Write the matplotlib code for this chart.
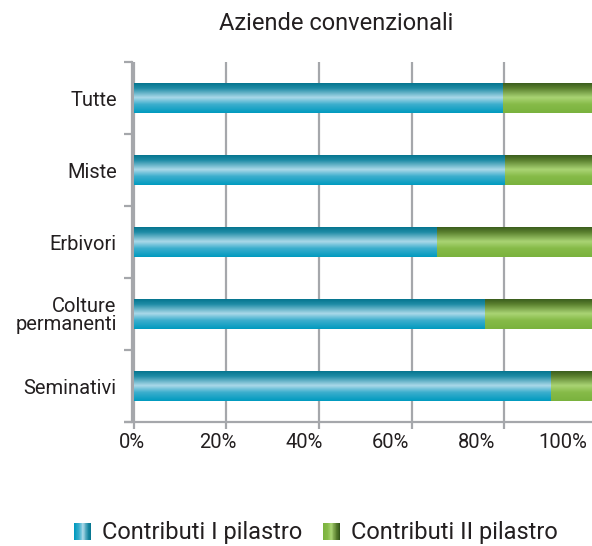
import numpy as np
import matplotlib
matplotlib.use('Agg')
import matplotlib.pyplot as plt
from matplotlib.colors import LinearSegmentedColormap
from matplotlib.legend_handler import HandlerBase
from matplotlib.patches import Rectangle

title = "Aziende convenzionali"
categories = ["Tutte", "Miste", "Erbivori", "Colture\npermanenti", "Seminativi"]
pilastro_1 = [79.8, 80.2, 65.4, 75.9, 90.1]
pilastro_2 = [20.2, 19.8, 34.6, 24.1, 9.9]
series_names = ["Contributi I pilastro", "Contributi II pilastro"]
x_ticks = [0, 20, 40, 60, 80, 100]
x_labels = ["0%", "20%", "40%", "60%", "80%", "100%"]

plt.rcParams['font.family'] = ['Roboto', 'DejaVu Sans']
TXT = '#231f20'
GRID = '#a5a7ab'

blue_cmap = LinearSegmentedColormap.from_list('blue', [
    (0.0, '#00708a'), (0.2, '#1f8ca6'), (0.5, '#abd9e9'),
    (0.72, '#3caecd'), (1.0, '#009abf')])
green_cmap = LinearSegmentedColormap.from_list('green', [
    (0.0, '#34561a'), (0.2, '#5b812f'), (0.5, '#aad474'),
    (0.72, '#86bb48'), (1.0, '#7ab23e')])

fig = plt.figure(figsize=(5.92, 5.46), dpi=100)
ax = fig.add_axes([132 / 592, 1 - 422 / 546, 465 / 592, 360 / 546])

n = len(categories)
y = np.arange(n)[::-1]
bar_h = 0.42

bars1 = ax.barh(y, pilastro_1, height=bar_h, color='none', edgecolor='none')
bars2 = ax.barh(y, pilastro_2, left=pilastro_1, height=bar_h, color='none', edgecolor='none')

grad = np.linspace(0, 1, 256).reshape(-1, 1)
for bars, cmap in ((bars1, blue_cmap), (bars2, green_cmap)):
    for p in bars:
        x0, y0 = p.get_x(), p.get_y()
        im = ax.imshow(grad, extent=[x0, x0 + p.get_width(), y0, y0 + p.get_height()],
                       origin='upper', aspect='auto', cmap=cmap, zorder=3,
                       interpolation='bilinear')
        im.set_clip_path(p)

ax.set_xlim(0, 100)
ax.set_ylim(-0.5, n - 0.5)
ax.set_axisbelow(True)

# x axis: gridlines/ticks at values, labels slightly offset as in reference
ax.set_xticks(x_ticks)
ax.set_xticklabels([])
label_positions = [t * 0.93 - 0.4 for t in x_ticks]
ax.set_xticks(label_positions, minor=True)
ax.set_xticklabels(x_labels, minor=True, fontsize=14.5, color=TXT)
ax.tick_params(axis='x', which='major', direction='out', length=5, width=1.6, color=GRID)
ax.tick_params(axis='x', which='minor', length=0, pad=8)
ax.grid(axis='x', which='major', color=GRID, lw=1.6)

# y axis: ticks at category boundaries, labels at centres
ax.set_yticks(np.arange(n + 1) - 0.5)
ax.set_yticklabels([])
ax.set_yticks(y, minor=True)
ax.set_yticklabels(categories, minor=True, fontsize=14.5, color=TXT, linespacing=0.95)
ax.tick_params(axis='y', which='major', direction='out', length=6, width=1.6, color=GRID)
ax.tick_params(axis='y', which='minor', length=0, pad=11)

for s in ('top', 'right', 'bottom'):
    ax.spines[s].set_visible(False)
ax.spines['left'].set_color(GRID)
ax.spines['left'].set_linewidth(1.6)
ax.plot([-8 / 465, 1.0], [0, 0], transform=ax.transAxes, color=GRID, lw=1.6,
        clip_on=False, zorder=4, solid_capstyle='butt')

fig.text(336 / 592, 1 - 23 / 546, title, ha='center', va='center', fontsize=17, color=TXT)


class GradHandler(HandlerBase):
    def __init__(self, cmap):
        super().__init__()
        self.cmap = cmap

    def create_artists(self, legend, orig_handle, xdescent, ydescent, width, height, fontsize, trans):
        k = 40
        arts = []
        for i in range(k):
            r = Rectangle((-xdescent + width * i / k, -ydescent), width / k * 1.1, height,
                          facecolor=self.cmap(1 - i / (k - 1)), edgecolor='none', transform=trans)
            arts.append(r)
        return arts


h1 = Rectangle((0, 0), 1, 1)
h2 = Rectangle((0, 0), 1, 1)
fig.legend([h1, h2], series_names, loc='center', bbox_to_anchor=(316 / 592, 1 - 533 / 546),
           ncol=2, frameon=False, fontsize=17, handlelength=0.72, handleheight=0.76,
           handletextpad=0.47, columnspacing=0.85, labelcolor=TXT,
           handler_map={h1: GradHandler(blue_cmap), h2: GradHandler(green_cmap)})

fig.savefig('out.png', dpi=100)
